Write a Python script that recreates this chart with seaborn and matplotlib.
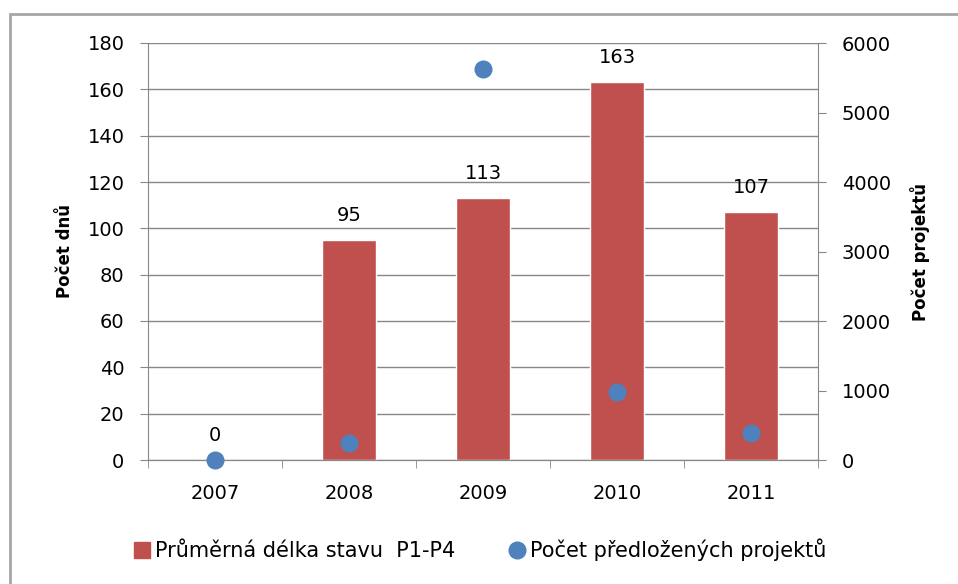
import matplotlib
matplotlib.use('Agg')
import matplotlib.pyplot as plt
import seaborn as sns
import pandas as pd
from matplotlib.patches import Rectangle
from matplotlib.lines import Line2D

years = ['2007', '2008', '2009', '2010', '2011']
delka = [0, 95, 113, 163, 107]
projekty = [0, 240, 5630, 980, 385]

sns.set_style('white')
plt.rcParams['font.family'] = ['DejaVu Sans']
plt.rcParams['text.color'] = 'black'
plt.rcParams['axes.labelcolor'] = 'black'
plt.rcParams['xtick.color'] = 'black'
plt.rcParams['ytick.color'] = 'black'

red = '#C0504D'
blue = '#4F81BD'
gray = '#878787'

df = pd.DataFrame({'rok': years, 'delka': delka, 'projekty': projekty})

fig = plt.figure(figsize=(9.58, 5.84), dpi=100)
fig.patches.append(Rectangle((10 / 958, -0.1), 1.2, 1 - 14 / 584 + 0.1,
                             transform=fig.transFigure, fill=False,
                             edgecolor='#A6A6A6', linewidth=2))
ax = fig.add_axes([148 / 958, 124 / 584, 670 / 958, 417 / 584])

sns.barplot(data=df, x='rok', y='delka', color=red, width=0.4,
            saturation=1, ax=ax, zorder=2)
ax.set_ylim(0, 180)
ax.set_yticks(range(0, 181, 20))
ax.grid(axis='y', color=gray, linewidth=1, zorder=0)
ax.set_axisbelow(True)
ax.set_xlabel('')
ax.set_ylabel('Počet dnů', fontsize=12, fontweight='bold', labelpad=10)
for c in ax.containers:
    ax.bar_label(c, labels=[str(v) for v in delka], padding=11, fontsize=14)

ax2 = ax.twinx()
sns.stripplot(data=df, x='rok', y='projekty', jitter=False, color=blue,
              size=13, ax=ax2, zorder=3, clip_on=False)
ax2.set_ylim(0, 6000)
ax2.set_yticks(range(0, 6001, 1000))
ax2.set_ylabel('Počet projektů', fontsize=12, fontweight='bold', labelpad=14)
ax2.set_xlim(-0.5, 4.5)
ax.set_xlim(-0.5, 4.5)

for a in (ax, ax2):
    for s in a.spines.values():
        s.set_color(gray)
    a.spines['top'].set_visible(False)
ax.spines['right'].set_visible(False)
ax2.spines['left'].set_visible(False)

ax.tick_params(axis='y', left=True, length=6, color=gray, labelsize=14, pad=11)
ax2.tick_params(axis='y', right=True, length=6, color=gray, labelsize=14, pad=11)
ax.tick_params(axis='x', bottom=False, labelsize=14, pad=14)
ax.set_xticks([-0.5, 0.5, 1.5, 2.5, 3.5, 4.5], minor=True)
ax.tick_params(axis='x', which='minor', bottom=True, length=6, color=gray)

handles = [Line2D([], [], marker='s', linestyle='', color=red, markersize=12),
           Line2D([], [], marker='o', linestyle='', color=blue, markersize=12)]
fig.legend(handles, ['Průměrná délka stavu  P1-P4', 'Počet předložených projektů'],
           loc='center', bbox_to_anchor=(0.5, 34 / 584), ncol=2, frameon=False,
           fontsize=15, handletextpad=0.1, columnspacing=2.5, handlelength=1)

fig.savefig('out.png', dpi=100)
